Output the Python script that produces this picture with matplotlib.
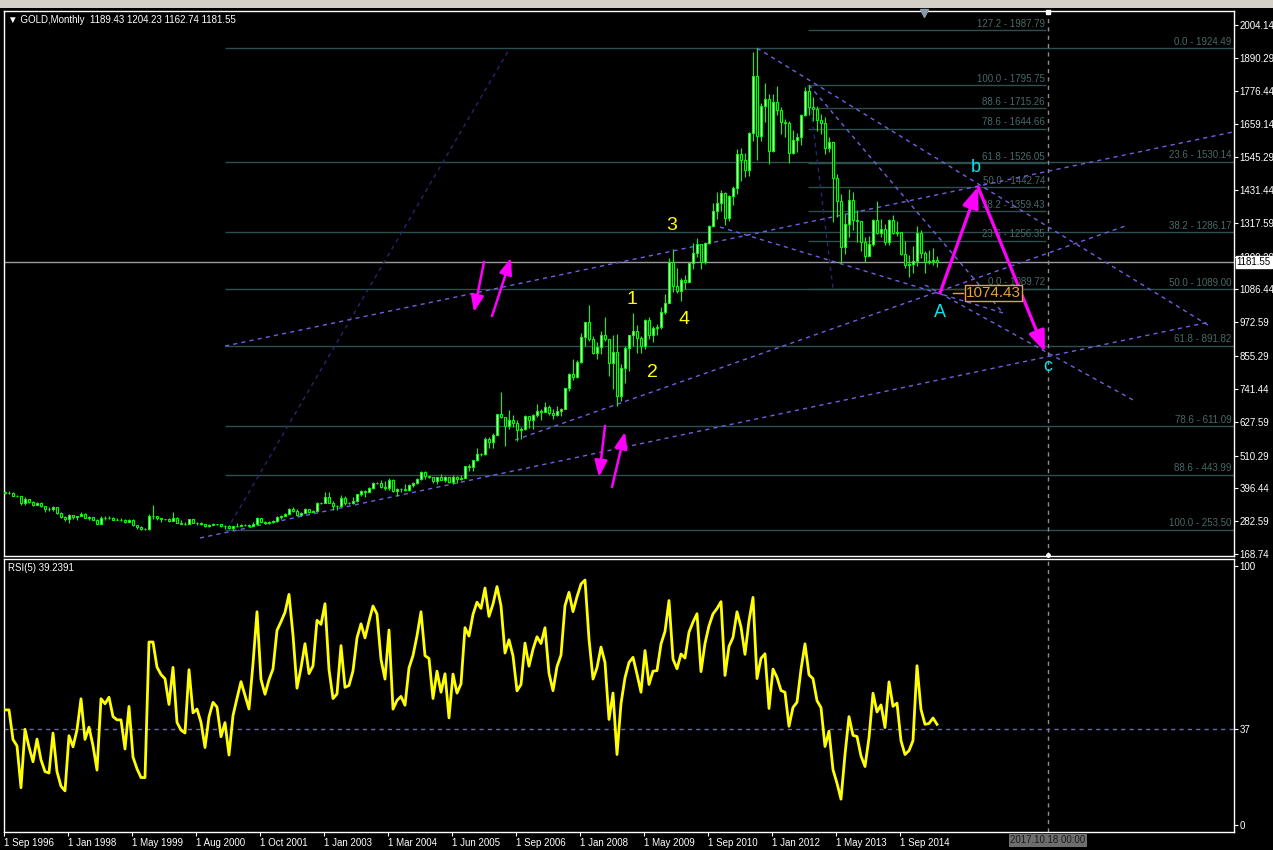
import numpy as np
import pandas as pd
import matplotlib
matplotlib.use("Agg")
import matplotlib.pyplot as plt
import matplotlib.transforms as mtransforms
from matplotlib.patches import Rectangle

plt.rcParams['font.family'] = ['Liberation Sans', 'DejaVu Sans']

# Monthly GOLD bars, Sep 1996 .. Jun 2015 (broker history has a few extra bars)
first_open = 383
close_px = [
    379, 379, 371, 369,
    345, 358, 349, 340, 345, 334, 326, 325, 332, 311, 296, 290,
    303, 297, 301, 309, 293, 296, 288, 273, 294, 292, 294, 288,
    287, 287, 279, 286, 268, 261, 255, 255, 299, 299, 292, 290, 289,
    283, 293, 277, 274, 273, 289, 276, 277, 273, 264, 270, 273, 272,
    265, 267, 258, 264, 267, 270, 268, 266, 273, 293, 279, 275, 279,
    282, 297, 302, 308, 326, 318, 304, 312, 324, 316, 319, 347, 346,
    368, 347, 334, 336, 364, 346, 347, 354, 375, 388, 384, 398, 416, 414,
    402, 396, 427, 388, 393, 395, 391, 408, 415, 428, 453, 438, 437,
    422, 435, 427, 435, 417, 437, 429, 433, 473, 470, 495, 517, 515,
    568, 556, 582, 654, 643, 613, 633, 623, 599, 604, 646, 632,
    650, 665, 662, 679, 659, 650, 665, 673, 743, 794, 783, 834,
    923, 972, 916, 865, 886, 929, 913, 833, 871, 717, 815, 882,
    927, 942, 917, 890, 979, 927, 954, 955, 1008, 1040, 1182, 1097,
    1081, 1118, 1113, 1179, 1213, 1244, 1181, 1248, 1307, 1359, 1385, 1421,
    1333, 1410, 1439, 1556, 1536, 1500, 1628, 1828, 1620, 1722, 1746, 1566,
    1738, 1710, 1669, 1664, 1561, 1604, 1615, 1692, 1776, 1720, 1713, 1675,
    1663, 1578, 1597, 1472, 1393, 1234, 1313, 1396, 1327, 1323, 1250, 1202,
    1244, 1326, 1284, 1296, 1250, 1327, 1282, 1287, 1210, 1171, 1175, 1184,
    1283, 1213, 1183, 1184, 1189.43, 1181.55,
]
high_px = [
    388, 387, 385, 373,
    370, 366, 357, 351, 349, 348, 335, 330, 335, 332, 315, 300,
    307, 304, 302, 314, 311, 299, 297, 290, 302, 302, 301, 296,
    293, 292, 290, 289, 290, 270, 265, 259, 307, 338, 302, 295, 291,
    292, 316, 297, 285, 278, 291, 290, 281, 278, 273, 271, 275, 274,
    273, 269, 269, 265, 275, 273, 271, 272, 278, 298, 293, 283, 282,
    285, 299, 304, 310, 328, 332, 326, 316, 327, 326, 322, 349, 349,
    384, 382, 354, 340, 374, 371, 350, 368, 377, 391, 391, 400, 417, 418,
    427, 421, 431, 429, 396, 399, 410, 412, 418, 432, 456, 457, 440,
    431, 437, 447, 438, 436, 443, 438, 442, 475, 480, 496, 538, 519,
    573, 574, 588, 656, 730, 645, 669, 651, 633, 608, 650, 648,
    656, 690, 673, 697, 686, 673, 682, 676, 745, 796, 845, 842,
    934, 975, 1033, 926, 904, 941, 990, 916, 929, 932, 829, 889,
    930, 1006, 962, 925, 983, 990, 960, 965, 1024, 1070, 1195, 1227,
    1162, 1125, 1138, 1181, 1249, 1265, 1245, 1251, 1310, 1388, 1424, 1432,
    1424, 1413, 1447, 1575, 1577, 1560, 1632, 1911, 1924.49, 1733, 1802, 1764,
    1764, 1791, 1718, 1678, 1671, 1640, 1630, 1695, 1788, 1795.75, 1754, 1723,
    1694, 1684, 1617, 1597, 1487, 1417, 1348, 1434, 1424, 1361, 1324, 1267,
    1271, 1332, 1392, 1331, 1315, 1330, 1345, 1323, 1287, 1255, 1206, 1239,
    1307, 1293, 1220, 1224, 1232, 1204.23,
]
low_px = [
    378, 376, 369, 366,
    340, 339, 346, 336, 339, 333, 313, 318, 319, 309, 294, 283,
    276, 291, 288, 301, 292, 286, 287, 271, 273, 288, 290, 285,
    285, 283, 277, 278, 267, 257, 252, 251, 253, 290, 287, 280, 286,
    280, 282, 275, 272, 270, 271, 275, 270, 269, 263, 263, 268, 270,
    262, 255, 255, 253, 261, 265, 266, 264, 265, 271, 278, 271, 271,
    277, 281, 290, 299, 306, 314, 302, 302, 311, 311, 315, 318, 342,
    344, 344, 321, 321, 333, 340, 343, 342, 350, 371, 366, 382, 395, 410,
    398, 391, 391, 384, 371, 384, 386, 387, 400, 411, 424, 428, 433,
    416, 411, 424, 420, 414, 413, 416, 427, 433, 458, 458, 490, 510,
    513, 538, 538, 581, 640, 542, 604, 610, 560, 569, 598, 607,
    603, 645, 635, 661, 650, 638, 647, 648, 670, 733, 774, 779,
    832, 890, 906, 862, 846, 862, 909, 786, 740, 681, 700, 763,
    802, 890, 865, 865, 880, 913, 905, 929, 951, 1000, 1040, 1076,
    1074, 1045, 1088, 1111, 1156, 1199, 1157, 1175, 1243, 1306, 1330, 1359,
    1309, 1325, 1381, 1419, 1462, 1478, 1481, 1601, 1535, 1600, 1668, 1523,
    1563, 1692, 1627, 1616, 1527, 1556, 1564, 1589, 1689, 1692, 1672, 1635,
    1627, 1555, 1562, 1321, 1338, 1180, 1208, 1270, 1292, 1251, 1221, 1182,
    1202, 1238, 1278, 1268, 1241, 1240, 1280, 1273, 1206, 1161, 1131, 1142,
    1167, 1197, 1142, 1175, 1170, 1162.74,
]

date_labels = ['1 Sep 1996', '1 Jan 1998', '1 May 1999', '1 Aug 2000', '1 Oct 2001',
               '1 Jan 2003', '1 Mar 2004', '1 Jun 2005', '1 Sep 2006', '1 Jan 2008',
               '1 May 2009', '1 Sep 2010', '1 Jan 2012', '1 May 2013', '1 Sep 2014']
price_ticks = [2004.14, 1890.29, 1776.44, 1659.14, 1545.29, 1431.44, 1317.59, 1200.29,
               1086.44, 972.59, 855.29, 741.44, 627.59, 510.29, 396.44, 282.59, 168.74]

# fibonacci retracements
fib1_levels = ['0.0', '23.6', '38.2', '50.0', '61.8', '78.6', '88.6', '100.0']
fib1_prices = [1924.49, 1530.14, 1286.17, 1089.00, 891.82, 611.09, 443.99, 253.50]
fib2_levels = ['127.2', '100.0', '88.6', '78.6', '61.8', '50.0', '38.2', '23.6', '0.0']
fib2_prices = [1987.79, 1795.75, 1715.26, 1644.66, 1526.05, 1442.74, 1359.43, 1256.35, 1089.72]

# trend lines: (bar, price) end points
trend_lines = [
    [(55, 890), (307, 1633)],
    [(48.75, 224), (301.25, 974)],
    [(127.5, 564), (280.75, 1310)],
    [(188, 1924), (300.75, 963)],
    [(201, 1795.75), (249.5, 1005)],
    [(178.75, 1303), (249.5, 1005)],
    [(230, 1102), (282, 703)],
]
fib_diagonals = [
    [(55.5, 253.5), (126.25, 1924.49)],
    [(200.75, 1795.75), (207, 1089.72)],
]

wave_pts = {'A': (233.75, 1074.43), 'b': (243.25, 1442.74), 'c': (260, 870)}
small_arrows = [
    [(119.75, 1182), (117.25, 1008)],
    [(121.75, 994), (126.5, 1196)],
    [(150, 613), (148.5, 436)],
    [(151.75, 401), (155, 592)],
]
count_labels = {'1': (156.75, 1050), '2': (161.75, 800), '3': (166.75, 1307), '4': (169.75, 981)}
abc_labels = {'A': (233.75, 1008), 'b': (242.75, 1511), 'c': (260.75, 818)}

future_bar = 260.75
last_price = 1181.55
rsi_period = 5
rsi_seed = 4.0   # average monthly move assumed before the first bar

# ---------------------------------------------------------------------------
close = np.array(close_px, dtype=float)
high = np.array(high_px, dtype=float)
low = np.array(low_px, dtype=float)
opn = np.concatenate([[first_open], close[:-1]])
n = len(close)
x = np.arange(n)

# RSI(5), Wilder smoothing
diff = close - opn
ag, al = rsi_seed, rsi_seed
rsi = []
for dv in diff:
    ag = (ag * (rsi_period - 1) + max(dv, 0)) / rsi_period
    al = (al * (rsi_period - 1) + max(-dv, 0)) / rsi_period
    rsi.append(100.0 if al == 0 else 100 - 100 / (1 + ag / al))
rsi = np.array(rsi)

W, H = 1273, 850
fig = plt.figure(figsize=(W / 100, H / 100), dpi=100, facecolor='black')
fig.add_artist(Rectangle((0, 1 - 8 / H), 1, 8 / H, transform=fig.transFigure,
                         facecolor='#d4d0c8', edgecolor='none'))

ax = fig.add_axes([4 / W, 1 - 556 / H, 1230 / W, 545 / H])
axr = fig.add_axes([4 / W, 1 - 832 / H, 1230 / W, 273 / H])
xlim = (-0.25, 307.25)

for a in (ax, axr):
    a.set_facecolor('black')
    a.set_xlim(*xlim)
    for sp in a.spines.values():
        sp.set_color('white')
        sp.set_linewidth(1)
    a.yaxis.tick_right()
    a.tick_params(axis='y', colors='white', labelsize=7, length=3, pad=1, width=0.8)

ax.set_ylim(161.6, 2052.7)
ax.set_xticks([])
ax.set_yticks(price_ticks)
ax.set_yticklabels([f'{t:.2f}' for t in price_ticks])

fib_line = '#2f4f4f'
fib_text = '#4a6868'
trend_col = '#7060e0'
navy = '#26266e'

# fib set 1 (ray to the right)
for lev, p in zip(fib1_levels, fib1_prices):
    ax.hlines(p, 55, xlim[1], color=fib_line, lw=1, zorder=1)
    ax.text(306.6, p + 4, f'{lev} - {p:.2f}', color=fib_text, fontsize=7,
            ha='right', va='bottom', zorder=1)
# fib set 2
for lev, p in zip(fib2_levels, fib2_prices):
    ax.hlines(p, 200.75, 260.25, color=fib_line, lw=1, zorder=1)
    ax.text(260.0, p + 4, f'{lev} - {p:.2f}', color=fib_text, fontsize=7,
            ha='right', va='bottom', zorder=1)

# current price line
ax.axhline(last_price, color='#9a9a9a', lw=1, zorder=1)

for (x0, y0), (x1, y1) in fib_diagonals:
    ax.plot([x0, x1], [y0, y1], color=navy, lw=1, ls=(0, (3, 3)), zorder=1)
for (x0, y0), (x1, y1) in trend_lines:
    ax.plot([x0, x1], [y0, y1], color=trend_col, lw=1, ls=(0, (3, 3)), zorder=1.5)

# candles
up = close >= opn
ax.vlines(x, low, high, color='#00ff00', lw=0.8, zorder=2)
ax.bar(x, np.abs(close - opn), bottom=np.minimum(opn, close), width=0.6,
       color=np.where(up, 'white', 'black'), edgecolor='#00ff00', lw=0.8, zorder=3)

# vertical future line
for a in (ax, axr):
    a.axvline(future_bar, color='#8c8c8c', lw=1, ls=(0, (3, 3)), zorder=1)
ax.plot([future_bar], [2049], marker='s', ms=3, color='white', clip_on=False, zorder=5)
ax.plot([future_bar], [164], marker='o', ms=2.5, color='white', clip_on=False, zorder=5)
ax.plot([229.75], [2046], marker='v', ms=6, color='#8a9aaa', clip_on=False, zorder=5)

# arrows
mag = '#ff00ff'
big = dict(arrowstyle='-|>,head_length=0.9,head_width=0.35', color=mag, lw=2.3,
           shrinkA=0, shrinkB=0, mutation_scale=14)
ax.annotate('', xy=wave_pts['b'], xytext=wave_pts['A'], arrowprops=big, zorder=6)
ax.annotate('', xy=wave_pts['c'], xytext=wave_pts['b'], arrowprops=big, zorder=6)
small = dict(arrowstyle='-|>,head_length=0.9,head_width=0.35', color=mag, lw=1.8,
             shrinkA=0, shrinkB=0, mutation_scale=11)
for p0, p1 in small_arrows:
    ax.annotate('', xy=p1, xytext=p0, arrowprops=small, zorder=6)

for t, (bx, by) in count_labels.items():
    ax.text(bx, by, t, color='#ffff00', fontsize=14, ha='center', va='center', zorder=6)
for t, (bx, by) in abc_labels.items():
    ax.text(bx, by, t, color='#00e5ee', fontsize=13, ha='center', va='center', zorder=6)

# price label at point A
orange = '#e8a23a'
ax.plot([237.0, 239.6], [1074.43, 1074.43], color=orange, lw=1, zorder=6)
ax.text(240.2, 1074.43, '1074.43', color=orange, fontsize=11, ha='left', va='center',
        zorder=6, bbox=dict(boxstyle='square,pad=0.08', fc='black', ec=orange, lw=1))

# header and last price tag
ax.text(0.003, 0.9835, '\u25bc GOLD,Monthly  1189.43 1204.23 1162.74 1181.55',
        transform=ax.transAxes, color='white', fontsize=7, ha='left', va='center')
tr = mtransforms.blended_transform_factory(ax.transAxes, ax.transData)
ax.text(1.0022, last_price, f'{last_price:.2f}', transform=tr, color='black', fontsize=7,
        ha='left', va='center', clip_on=False, zorder=10,
        bbox=dict(boxstyle='square,pad=0.12', fc='white', ec='white'))

# RSI panel
axr.set_ylim(-2.7, 102.7)
axr.plot(x, rsi, color='#ffff00', lw=2, zorder=3)
axr.axhline(37, color='#6a6ab0', lw=1, ls=(0, (3, 3)), zorder=1)
axr.set_yticks([0, 37, 100])
axr.set_yticklabels(['0', '37', '100'])
axr.set_xticks([16 * k - 0.25 for k in range(len(date_labels))])
axr.set_xticklabels(date_labels, ha='left')
axr.tick_params(axis='x', colors='white', labelsize=7, length=3, pad=1, width=0.8)
axr.text(0.003, 0.967, 'RSI(5) 39.2391', transform=axr.transAxes, color='white',
         fontsize=7, ha='left', va='center')
trr = mtransforms.blended_transform_factory(axr.transData, axr.transAxes)
axr.text(future_bar, -0.03, '2017.10.18 00:00', transform=trr, color='#1a1a1a', fontsize=7,
         ha='center', va='center', clip_on=False,
         bbox=dict(boxstyle='square,pad=0.15', fc='#6e6e6e', ec='none'))

fig.savefig('out.png', dpi=100, facecolor='black')
